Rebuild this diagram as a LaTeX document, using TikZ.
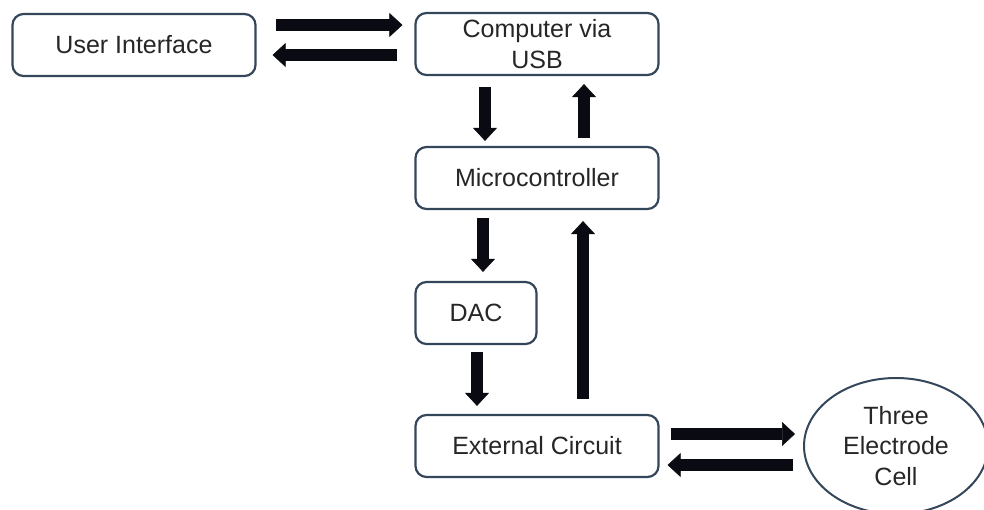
\documentclass[tikz,border=0pt]{standalone}
\usepackage{fontspec}
\setmainfont{Liberation Sans}
\usetikzlibrary{arrows.meta,shapes.geometric}
\definecolor{boxline}{HTML}{34465A}
\definecolor{txtc}{HTML}{262626}
\definecolor{arrc}{HTML}{0A0A12}
\begin{document}
\begin{tikzpicture}[x=1pt,y=-1pt,font=\fontsize{25}{30.5}\selectfont,line join=round]
				\tikzset{blk/.style={draw=boxline,line width=2.2pt,rounded corners=11pt,text=txtc,align=center,inner sep=0pt,minimum height=62pt},
					fat/.style={draw=arrc,line width=12pt,-{Triangle[width=24pt,length=13pt,line width=0.5pt]}}}
				\useasboundingbox (0,0) rectangle (984,510);
				% boxes
				\node[blk,minimum width=243pt] (ui) at (134,45) {User Interface};
				\node[blk,minimum width=243pt] (comp) at (537,44) {Computer via\\USB};
				\node[blk,minimum width=243pt] (micro) at (537,178) {Microcontroller};
				\node[blk,minimum width=121pt] (dac) at (476,313) {DAC};
				\node[blk,minimum width=243pt] (ext) at (537,446) {External Circuit};
				\node[draw=boxline,line width=2pt,ellipse,minimum width=184pt,minimum height=136pt,inner sep=0pt,text=txtc,align=center] (cell) at (896,446) {Three\\Electrode\\Cell};
				% arrows
				\draw[fat] ([xshift=19pt,yshift=20pt]ui.east) -- ([xshift=-12pt,yshift=19pt]comp.west);
				\draw[fat] ([xshift=-17pt,yshift=-11pt]comp.west) -- ([xshift=16pt,yshift=-10pt]ui.east);
				\draw[fat] ([xshift=-52pt,yshift=-11pt]comp.south) -- ([xshift=-52pt,yshift=5pt]micro.north);
				\draw[fat] ([xshift=47pt,yshift=8pt]micro.north) -- ([xshift=47pt,yshift=-8pt]comp.south);
				\draw[fat] ([xshift=-54pt,yshift=-8pt]micro.south) -- ([xshift=7pt,yshift=9pt]dac.north);
				\draw[fat] ([xshift=1pt,yshift=-7pt]dac.south) -- ([xshift=-60pt,yshift=8pt]ext.north);
				\draw[fat] ([xshift=46pt,yshift=15pt]ext.north) -- ([xshift=46pt,yshift=-11pt]micro.south);
				\draw[fat] ([xshift=11pt,yshift=12pt]ext.east) -- ([xshift=-8pt,yshift=12pt]cell.west);
				\draw[fat] ([xshift=-10pt,yshift=-19pt]cell.west) -- ([xshift=8pt,yshift=-19pt]ext.east);
			\end{tikzpicture}
\end{document}
